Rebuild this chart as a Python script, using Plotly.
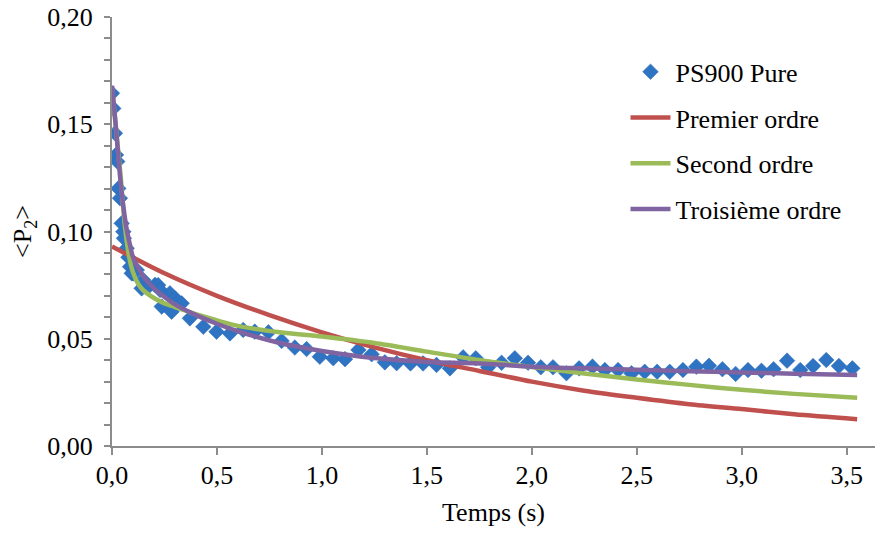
import plotly.graph_objects as go

# Measured data: PS900 Pure
t_data = [0.000, 0.006, 0.014, 0.019, 0.025, 0.030, 0.038, 0.046, 0.054, 0.057,
          0.070, 0.078, 0.086, 0.094, 0.101, 0.118, 0.141, 0.149, 0.173, 0.205,
          0.220, 0.229, 0.237, 0.276, 0.284, 0.300, 0.316, 0.332,
          0.371, 0.435, 0.498, 0.562, 0.625, 0.680, 0.745, 0.808, 0.871, 0.927,
          0.990, 1.054, 1.110, 1.174, 1.237, 1.300, 1.356, 1.422, 1.482, 1.546,
          1.610, 1.673, 1.733, 1.792, 1.856, 1.919, 1.982, 2.043, 2.101, 2.165,
          2.225, 2.289, 2.348, 2.411, 2.475, 2.538, 2.597, 2.657, 2.720, 2.784,
          2.844, 2.908, 2.971, 3.030, 3.094, 3.152, 3.216, 3.279, 3.340, 3.403,
          3.463, 3.527]
p2_data = [0.1644, 0.1574, 0.1458, 0.1357, 0.1326, 0.1201, 0.1155, 0.1038, 0.0999, 0.0968,
           0.0922, 0.0880, 0.0836, 0.0805, 0.0805, 0.0820, 0.0735, 0.0774, 0.0743, 0.0751,
           0.0750, 0.0727, 0.0650, 0.0712, 0.0626, 0.0688, 0.0673, 0.0665,
           0.0595, 0.0556, 0.0533, 0.0525, 0.0541, 0.0533, 0.0530, 0.0490, 0.0459, 0.0452,
           0.0416, 0.0409, 0.0405, 0.0448, 0.0428, 0.0390, 0.0386, 0.0385, 0.0385, 0.0378,
           0.0362, 0.0413, 0.0409, 0.0367, 0.0388, 0.0409, 0.0388, 0.0367, 0.0367, 0.0339,
           0.0362, 0.0370, 0.0354, 0.0354, 0.0339, 0.0346, 0.0346, 0.0346, 0.0354, 0.0370,
           0.0374, 0.0358, 0.0336, 0.0354, 0.0351, 0.0358, 0.0398, 0.0354, 0.0373, 0.0401,
           0.0373, 0.0362]

# Premier ordre
t_first = [0, 0.25, 0.5, 0.75, 1.0, 1.25, 1.5, 1.75, 2.0, 2.25, 2.5, 2.75, 3.0, 3.25, 3.55]
p2_first = [0.0930, 0.0805, 0.0700, 0.0610, 0.0530, 0.0460, 0.0400, 0.0350, 0.0300,
            0.0258, 0.0225, 0.0195, 0.0172, 0.0148, 0.0125]

# Second ordre
t_second = [0, 0.02, 0.04, 0.06, 0.08, 0.1, 0.125, 0.15, 0.2, 0.25, 0.3, 0.4, 0.6, 0.8,
            1.0, 1.25, 1.5, 1.75, 2.0, 2.25, 2.5, 2.75, 3.0, 3.25, 3.55]
p2_second = [0.167, 0.147, 0.127, 0.104, 0.089, 0.081, 0.0755, 0.0725, 0.0690, 0.0665,
             0.0648, 0.0615, 0.0560, 0.0530, 0.0510, 0.0480, 0.0440, 0.0401, 0.0368,
             0.0338, 0.0310, 0.0285, 0.0262, 0.0243, 0.0225]

# Troisième ordre
t_third = [0, 0.01, 0.02, 0.03, 0.04, 0.055, 0.07, 0.085, 0.1, 0.125, 0.15, 0.2, 0.25,
           0.3, 0.4, 0.5, 0.6, 0.8, 1.0, 1.25, 1.5, 1.75, 2.0, 2.25, 2.5, 2.75, 3.0,
           3.25, 3.55]
p2_third = [0.168, 0.158, 0.147, 0.135, 0.124, 0.111, 0.101, 0.094, 0.088, 0.083, 0.079,
            0.0735, 0.0695, 0.0660, 0.0610, 0.0570, 0.0535, 0.0480, 0.0443, 0.0410,
            0.0392, 0.0385, 0.0370, 0.0362, 0.0355, 0.0349, 0.0343, 0.0337, 0.0331]

x_ticks = [0, 0.5, 1.0, 1.5, 2.0, 2.5, 3.0, 3.5]
y_ticks = [0, 0.05, 0.10, 0.15, 0.20]

FONT = "Liberation Serif, Times New Roman, serif"
FS = 26
AXIS = "#8C8C8C"

fig = go.Figure()
fig.add_trace(go.Scatter(
    x=t_data, y=p2_data, mode="markers", name="PS900 Pure", legendgroup="a",
    marker=dict(symbol="diamond", size=12, color="#2F73C3",
                line=dict(width=0.5, color="#2A6AB5"))))
fig.add_trace(go.Scatter(
    x=t_first, y=p2_first, mode="lines", name="Premier ordre", legendgroup="b",
    line=dict(color="#C0504D", width=4.5, shape="spline", smoothing=0.8)))
fig.add_trace(go.Scatter(
    x=t_second, y=p2_second, mode="lines", name="Second ordre", legendgroup="c",
    line=dict(color="#9BBB59", width=4.5, shape="spline", smoothing=0.8)))
fig.add_trace(go.Scatter(
    x=t_third, y=p2_third, mode="lines", name="Troisième ordre", legendgroup="d",
    line=dict(color="#8064A2", width=4.5, shape="spline", smoothing=0.8)))

fig.update_layout(
    width=877, height=533,
    margin=dict(l=112, r=2, t=17, b=87),
    paper_bgcolor="white", plot_bgcolor="white",
    separators=", ",
    font=dict(family=FONT, size=FS, color="black"),
    showlegend=True,
    legend=dict(x=0.673, y=0.927, xanchor="left", yanchor="top",
                font=dict(family=FONT, size=FS, color="black"),
                tracegroupgap=9, bgcolor="rgba(0,0,0,0)", itemwidth=40),
    xaxis=dict(range=[0, 3.635], tickvals=x_ticks, tickformat=".1f",
               showgrid=False, zeroline=False, showline=True, linecolor=AXIS,
               linewidth=2, ticks="outside", ticklen=7, tickwidth=1.5, tickcolor=AXIS,
               ticklabelstandoff=-2,
               tickfont=dict(family=FONT, size=FS, color="black"),
               title=dict(text="Temps (s)", standoff=14,
                          font=dict(family=FONT, size=FS, color="black"))),
    yaxis=dict(range=[0, 0.2], tickvals=y_ticks, tickformat=".2f",
               showgrid=False, zeroline=False, showline=True, linecolor=AXIS,
               linewidth=2, ticks="outside", ticklen=6, tickwidth=1.5, tickcolor=AXIS,
               minor=dict(dtick=0.01, ticks="outside", ticklen=6, tickwidth=1.5,
                          tickcolor=AXIS, showgrid=False),
               ticklabelstandoff=6,
               tickfont=dict(family=FONT, size=FS, color="black"),
               title=dict(text="&lt;P<sub>2</sub>&gt;", standoff=8,
                          font=dict(family=FONT, size=FS, color="black"))),
)

fig.write_html("out.html")
